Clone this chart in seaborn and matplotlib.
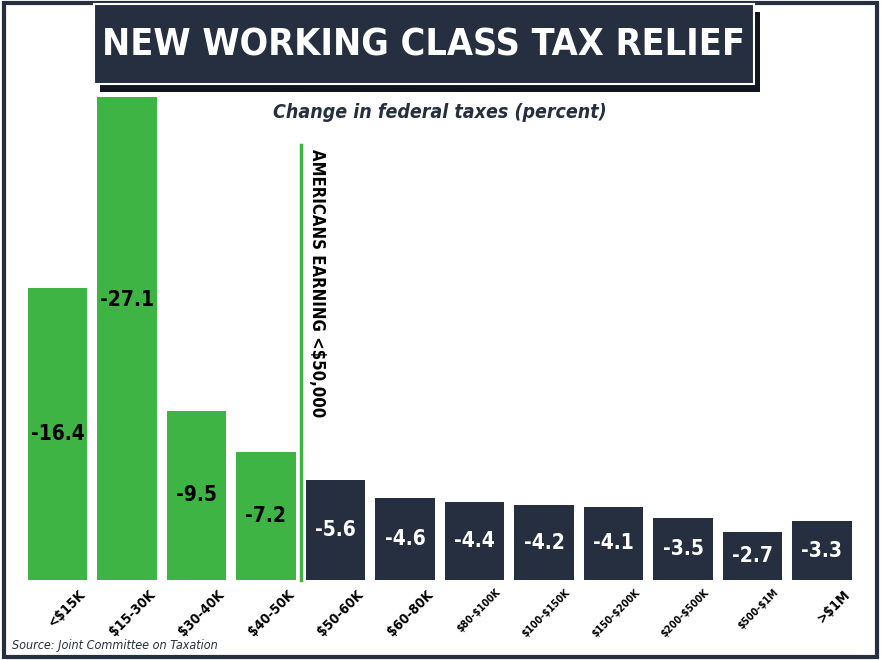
import matplotlib
matplotlib.use("Agg")
import matplotlib.pyplot as plt
import seaborn as sns
import pandas as pd
from matplotlib.patches import Rectangle

categories = ["<$15K", "$15-30K", "$30-40K", "$40-50K", "$50-60K", "$60-80K",
              "$80-$100K", "$100-$150K", "$150-$200K", "$200-$500K", "$500-$1M", ">$1M"]
values = [-16.4, -27.1, -9.5, -7.2, -5.6, -4.6, -4.4, -4.2, -4.1, -3.5, -2.7, -3.3]
groups = ["low"] * 4 + ["high"] * 8
label_sizes = [10, 10, 10, 10, 10, 10, 7.5, 7.5, 7.5, 7.5, 7.5, 10]

GREEN = "#3db444"
NAVY = "#252f40"
df = pd.DataFrame({"cat": categories, "mag": [-v for v in values], "grp": groups})

fig = plt.figure(figsize=(8.81, 6.6), dpi=100)
fig.patch.set_facecolor("white")
fig.patches.append(Rectangle((0.004, 0.004), 0.992, 0.992, transform=fig.transFigure,
                             fill=False, edgecolor=NAVY, linewidth=3))

ax = fig.add_axes([22.75 / 881, 80 / 660, 834 / 881, 483 / 660])
sns.barplot(data=df, x="cat", y="mag", hue="grp", palette={"low": GREEN, "high": NAVY},
            dodge=False, width=0.85, legend=False, ax=ax, saturation=1)
ax.set_xlim(-0.5, 11.5)
ax.set_ylim(0, 27.1)
ax.axis("off")

fs = dict(family="DejaVu Sans", stretch="condensed", weight="bold", parse_math=False)
for i, (v, m) in enumerate(zip(values, df["mag"])):
    y = m / 2 if i != 1 else m * 0.58
    ax.text(i, y, f"{v}", ha="center", va="center", color="black" if i < 4 else "white",
            fontsize=15, **fs)
    ax.text(i + 0.3, -0.4, categories[i], ha="right", va="top", rotation=45,
            rotation_mode="anchor", fontsize=label_sizes[i], color="black", **fs)

# divider line
ax.plot([3.5, 3.5], [0, 24.4], color=GREEN, lw=2.5, clip_on=False)
ax.text(3.6, 24.2, "AMERICANS EARNING <$50,000", rotation=-90, ha="left", va="top",
        fontsize=12, color="black", **fs)

# title
fig.patches.append(Rectangle((100 / 881, 1 - 92 / 660), 660 / 881, 80 / 660,
                             transform=fig.transFigure, facecolor="#10151f", edgecolor="none"))
fig.patches.append(Rectangle((94 / 881, 1 - 84 / 660), 660 / 881, 80 / 660,
                             transform=fig.transFigure, facecolor=NAVY, edgecolor="white", lw=1.5))
fig.text(424 / 881, 1 - 46 / 660, "NEW WORKING CLASS TAX RELIEF", ha="center", va="center",
         color="white", fontsize=27, **fs)
fig.text(440 / 881, 1 - 113 / 660, "Change in federal taxes (percent)", ha="center",
         va="center", color=NAVY, fontsize=14, style="italic", **fs)
fig.text(12 / 881, 1 - 645 / 660, "Source: Joint Committee on Taxation", ha="left",
         va="center", color=NAVY, fontsize=9, style="italic", family="DejaVu Sans",
         stretch="condensed", parse_math=False)

fig.savefig("out.png", dpi=100)
